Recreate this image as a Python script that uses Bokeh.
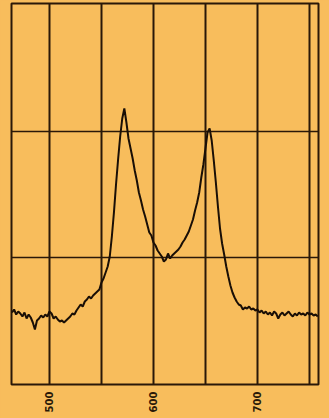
import math
from bokeh.plotting import figure
from bokeh.models import FixedTicker, Range1d, GlobalInlineStyleSheet
from bokeh.embed import file_html
from bokeh.resources import INLINE

# Spectrum trace: x sampled every 2 units starting at 464
x_start = 464
x_step = 2
intensity = [
    72, 75, 70, 73, 71, 68, 72, 66, 70, 67,
    62, 55, 64, 66, 69, 67, 70, 68, 73, 71,
    66, 68, 65, 63, 64, 62, 64, 66, 68, 71,
    70, 74, 77, 80, 78, 83, 85, 88, 86, 89,
    91, 93, 95, 102, 106, 112, 118, 128, 148, 172,
    200, 225, 248, 266, 276, 262, 246, 236, 226, 214,
    204, 192, 184, 175, 168, 160, 152, 149, 142, 139,
    134, 131, 128, 123, 125, 131, 126, 129, 131, 133,
    135, 138, 142, 145, 149, 153, 159, 165, 174, 182,
    192, 207, 220, 236, 252, 256, 244, 224, 202, 178,
    156, 141, 130, 118, 108, 99, 92, 87, 83, 80,
    79, 75, 77, 76, 78, 75, 76, 74, 75, 72,
    74, 71, 73, 70, 72, 69, 73, 71, 66, 70,
    72, 69, 71, 73, 70, 68, 71, 69, 72, 70,
    71, 69, 72, 70, 71, 69, 70, 68,
]
wavelength = [x_start + x_step * i for i in range(len(intensity))]

label_ticks = [500, 600, 700]
grid_x_ticks = [500, 550, 600, 650, 700, 750]
grid_y_ticks = [127, 253]

BG = "#F8BD5C"
INK = "#2a1808"

p = figure(width=329, height=418,
           x_range=Range1d(463.5, 758.7), y_range=Range1d(0, 381),
           output_backend="svg", toolbar_location=None,
           min_border_left=11, min_border_right=11,
           min_border_top=3, min_border_bottom=34)
p.stylesheets = [GlobalInlineStyleSheet(css="body{background-color:%s;}" % BG)]

p.background_fill_color = BG
p.border_fill_color = BG
p.outline_line_color = INK
p.outline_line_width = 2

p.line(wavelength, intensity, line_color="#1a0f06", line_width=2)

p.yaxis.visible = False
p.xaxis.ticker = FixedTicker(ticks=label_ticks)
p.xaxis.major_label_orientation = math.pi / 2
p.xaxis.axis_line_color = None
p.xaxis.major_tick_line_color = None
p.xaxis.minor_tick_line_color = None
p.xaxis.major_tick_out = 0
p.xaxis.major_tick_in = 0
p.xaxis.major_label_text_font_size = "10px"
p.xaxis.major_label_text_font_style = "bold"
p.xaxis.major_label_text_color = INK
p.xaxis.major_label_text_font = "DejaVu Sans"
p.xaxis.major_label_standoff = 7

p.xgrid.ticker = FixedTicker(ticks=grid_x_ticks)
p.ygrid.ticker = FixedTicker(ticks=grid_y_ticks)
p.grid.grid_line_color = INK
p.grid.grid_line_alpha = 1.0
p.xgrid.grid_line_width = 2
p.ygrid.grid_line_width = 1.6

open("out.html", "w").write(file_html(p, INLINE))
